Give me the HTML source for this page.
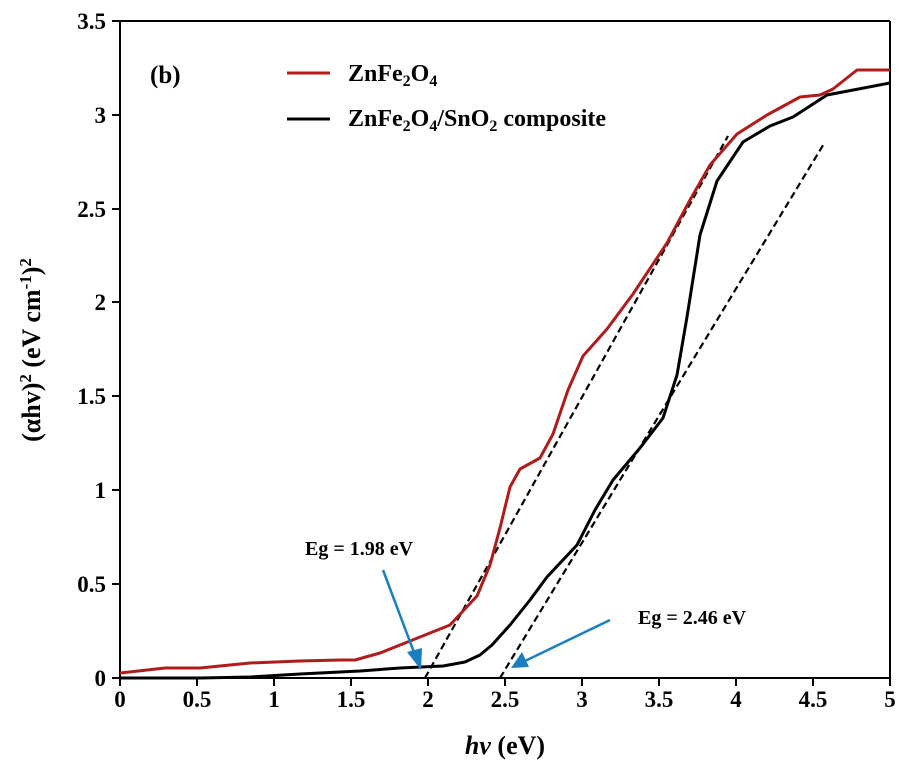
<!DOCTYPE html>
<html><head><meta charset="utf-8"><style>body{margin:0;background:#fff}svg text{font-family:"Liberation Serif",serif;font-weight:bold}</style></head><body>
<svg width="916" height="779" xmlns="http://www.w3.org/2000/svg">
<rect width="916" height="779" fill="#fff"/>
<g stroke="#000" stroke-width="2" fill="none">
<line x1="120" y1="21" x2="890" y2="21"/>
<line x1="120" y1="21" x2="120" y2="678"/>
<line x1="112" y1="678" x2="890" y2="678"/>
<line x1="890" y1="21" x2="890" y2="678"/>
</g>
<g stroke="#000" stroke-width="2">
<line x1="112" y1="21" x2="120" y2="21"/><line x1="112" y1="115" x2="120" y2="115"/><line x1="112" y1="209" x2="120" y2="209"/><line x1="112" y1="302" x2="120" y2="302"/><line x1="112" y1="396" x2="120" y2="396"/><line x1="112" y1="490" x2="120" y2="490"/><line x1="112" y1="584" x2="120" y2="584"/>
<line x1="120" y1="678" x2="120" y2="686"/><line x1="197" y1="678" x2="197" y2="686"/><line x1="274" y1="678" x2="274" y2="686"/><line x1="351" y1="678" x2="351" y2="686"/><line x1="428" y1="678" x2="428" y2="686"/><line x1="505" y1="678" x2="505" y2="686"/><line x1="582" y1="678" x2="582" y2="686"/><line x1="659" y1="678" x2="659" y2="686"/><line x1="736" y1="678" x2="736" y2="686"/><line x1="813" y1="678" x2="813" y2="686"/><line x1="890" y1="678" x2="890" y2="686"/>
</g>
<g font-size="23" text-anchor="end">
<text x="106" y="29">3.5</text><text x="106" y="123">3</text><text x="106" y="217">2.5</text><text x="106" y="310">2</text><text x="106" y="404">1.5</text><text x="106" y="498">1</text><text x="106" y="592">0.5</text><text x="106" y="686">0</text>
</g>
<g font-size="23" text-anchor="middle">
<text x="120" y="707">0</text><text x="197" y="707">0.5</text><text x="274" y="707">1</text><text x="351" y="707">1.5</text><text x="428" y="707">2</text><text x="505" y="707">2.5</text><text x="582" y="707">3</text><text x="659" y="707">3.5</text><text x="736" y="707">4</text><text x="813" y="707">4.5</text><text x="890" y="707">5</text>
</g>
<text x="505" y="754" font-size="26" text-anchor="middle"><tspan font-style="italic">hv</tspan> (eV)</text>
<text transform="translate(40,350) rotate(-90)" font-size="26" text-anchor="middle">(αhv)<tspan font-size="17" dy="-9">2</tspan><tspan dy="9"> (eV cm</tspan><tspan font-size="17" dy="-9">-1</tspan><tspan dy="9">)</tspan><tspan font-size="17" dy="-9">2</tspan></text>
<text x="150" y="83" font-size="25">(b)</text>
<line x1="287" y1="73" x2="330" y2="73" stroke="#b01c1c" stroke-width="3"/>
<line x1="287" y1="119" x2="330" y2="119" stroke="#000" stroke-width="3"/>
<text x="348" y="81" font-size="24">ZnFe<tspan font-size="16" dy="5">2</tspan><tspan dy="-5">O</tspan><tspan font-size="16" dy="5">4</tspan></text>
<text x="348" y="126" font-size="24">ZnFe<tspan font-size="16" dy="5">2</tspan><tspan dy="-5">O</tspan><tspan font-size="16" dy="5">4</tspan><tspan dy="-5">/SnO</tspan><tspan font-size="16" dy="5">2</tspan><tspan dy="-5"> composite</tspan></text>
<g stroke="#000" stroke-width="2.2" stroke-dasharray="7,4">
<line x1="425" y1="678" x2="728" y2="136"/>
<line x1="500" y1="678" x2="825" y2="142"/>
</g>
<polyline fill="none" stroke="#b01c1c" stroke-width="3" stroke-linejoin="round" points="120,673 165,668 200,668 250,663 300,661 340,660 355,660 380,653 400,645 420,637 450,625 477,596 490,565 500,528 510,487 520,469 540,458 553,434 568,390 583,356 607,329 633,294 667,243 690,200 710,165 737,134 767,115 800,97 820,95 833,89 857,70 890,70"/>
<polyline fill="none" stroke="#000" stroke-width="3" stroke-linejoin="round" points="120,678 200,678 250,677 300,674 360,671 400,668 443,666 465,662 480,655 492,645 510,625 530,600 547,577 577,545 595,510 613,480 640,448 663,418 677,375 687,317 700,235 717,181 743,142 770,126 793,117 827,95 890,83"/>
<g stroke="#1a7fc1" stroke-width="2.5" fill="#1a7fc1">
<line x1="383" y1="570" x2="415" y2="655"/>
<polygon points="421,670 407,652 422,648" stroke="none"/>
<line x1="610" y1="620" x2="525" y2="661"/>
<polygon points="511,668 522,652 529,667" stroke="none"/>
</g>
<text x="305" y="555" font-size="20">Eg = 1.98 eV</text>
<text x="638" y="624" font-size="20">Eg = 2.46 eV</text>
</svg>
</body></html>
